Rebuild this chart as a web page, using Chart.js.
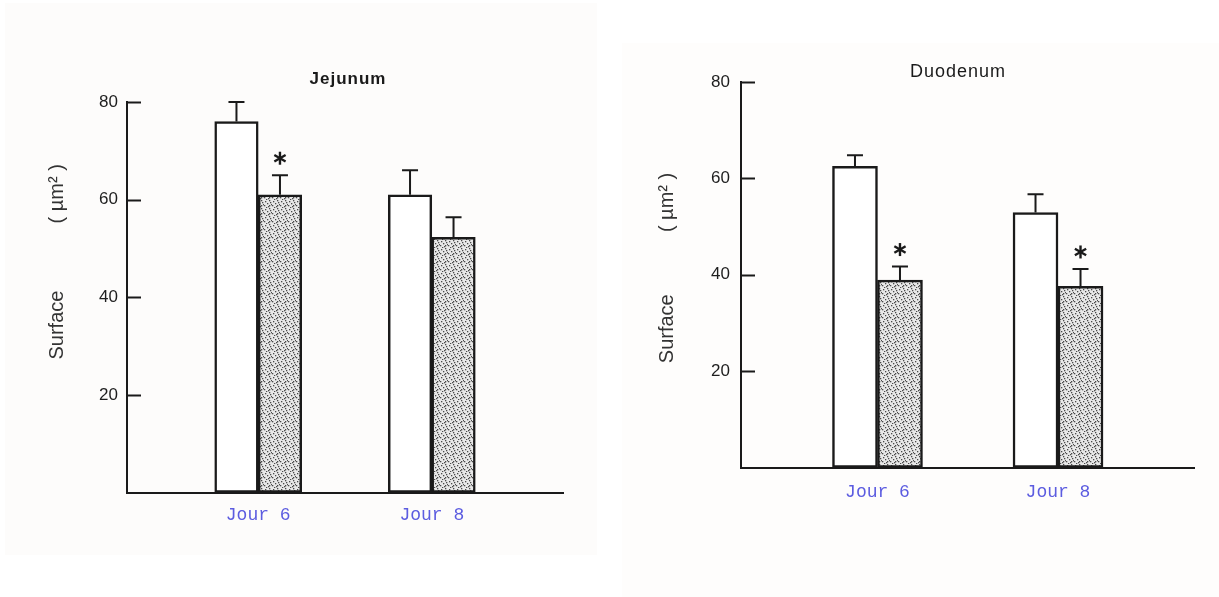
<!DOCTYPE html>
<html>
<head>
<meta charset="utf-8">
<script src="https://cdn.jsdelivr.net/npm/chart.js@4"></script>
<style>
  html, body { margin: 0; padding: 0; background: #ffffff; }
  body { width: 1219px; height: 597px; position: relative; overflow: hidden; }
  .panel { position: absolute; }
  #bgLeft { left: 5px; top: 3px; width: 592px; height: 552px; background: #fdfcfb; }
  #bgRight { left: 622px; top: 43px; width: 597px; height: 554px; background: #fefdfc; }
  #wrapLeft { left: 0; top: 0; width: 600px; height: 597px; }
  #wrapRight { left: 610px; top: 0; width: 609px; height: 597px; }
</style>
</head>
<body>
<div class="panel" id="bgLeft"></div>
<div class="panel" id="bgRight"></div>
<div class="panel" id="wrapLeft"><canvas id="chartLeft"></canvas></div>
<div class="panel" id="wrapRight"><canvas id="chartRight"></canvas></div>
<script>
const categories = ["Jour 6", "Jour 8"];
const yTicks = [20, 40, 60, 80];

// Jejunum (left)
const jejunumControl = [76, 61];
const jejunumControlSE = [4, 5];
const jejunumTreated = [61, 52.3];
const jejunumTreatedSE = [4, 4.1];
const jejunumSignif = [true, false];

// Duodenum (right)
const duodenumControl = [62.5, 52.9];
const duodenumControlSE = [2.3, 3.8];
const duodenumTreated = [38.9, 37.6];
const duodenumTreatedSE = [2.8, 3.6];
const duodenumSignif = [true, true];

const INK = "#1a1a1a";

// stippled fill, fixed dot layout
function makeStipple() {
  const c = document.createElement("canvas");
  c.width = 8;
  c.height = 8;
  const g = c.getContext("2d");
  g.fillStyle = "#e8e8e8";
  g.fillRect(0, 0, 8, 8);
  g.fillStyle = "#4a4a4a";
  const dots = [[1, 1], [5, 0], [3, 3], [7, 4], [0, 5], [4, 6], [2, 7], [6, 2], [5, 5]];
  dots.forEach(([x, y]) => g.fillRect(x, y, 1.3, 1.3));
  return g.createPattern(c, "repeat");
}

const annotate = {
  id: "annotate",
  afterDraw(chart, args, opts) {
    const ctx = chart.ctx;
    const y = chart.scales.y;
    const area = chart.chartArea;
    ctx.save();
    ctx.strokeStyle = INK;
    ctx.lineWidth = 2;

    // inner tick marks
    yTicks.forEach((v) => {
      const py = Math.round(y.getPixelForValue(v)) + 0.5;
      ctx.beginPath();
      ctx.moveTo(area.left, py);
      ctx.lineTo(area.left + 14, py);
      ctx.stroke();
    });

    // error bars + asterisks
    chart.data.datasets.forEach((ds, di) => {
      const meta = chart.getDatasetMeta(di);
      meta.data.forEach((bar, i) => {
        const top = y.getPixelForValue(ds.data[i].y + ds.se[i]);
        ctx.beginPath();
        ctx.moveTo(bar.x, bar.y);
        ctx.lineTo(bar.x, top);
        ctx.moveTo(bar.x - 8, top);
        ctx.lineTo(bar.x + 8, top);
        ctx.stroke();
        if (ds.signif && ds.signif[i]) {
          const cy = top - 17;
          ctx.save();
          ctx.lineWidth = 2.4;
          [90, 30, 150].forEach((a) => {
            const r = (a * Math.PI) / 180;
            const dx = Math.cos(r) * 6.5;
            const dy = Math.sin(r) * 6.5;
            ctx.beginPath();
            ctx.moveTo(bar.x - dx, cy - dy);
            ctx.lineTo(bar.x + dx, cy + dy);
            ctx.stroke();
          });
          ctx.restore();
        }
      });
    });

    // title
    ctx.fillStyle = INK;
    ctx.font = opts.titleFont;
    ctx.letterSpacing = "1px";
    ctx.textAlign = "center";
    ctx.textBaseline = "middle";
    ctx.fillText(opts.title, opts.titleX, opts.titleY);
    ctx.letterSpacing = "0px";

    // y axis label, two parts
    ctx.fillStyle = "#333";
    ctx.font = "20px 'Liberation Sans', Arial, sans-serif";
    const lx = area.left - opts.labelGap;
    [["Surface", opts.surfaceAt], ["( µm² )", opts.unitAt]].forEach(([t, v]) => {
      ctx.save();
      ctx.translate(lx, y.getPixelForValue(v));
      ctx.rotate(-Math.PI / 2);
      ctx.fillText(t, 0, 0);
      ctx.restore();
    });
    ctx.restore();
  },
};

function buildChart(canvasId, control, controlSE, treated, treatedSE, signif, cfg) {
  const stipple = makeStipple();
  const toPoints = (arr) => arr.map((v, i) => ({ x: i + 1, y: v }));
  return new Chart(document.getElementById(canvasId), {
    type: "bar",
    data: {
      datasets: [
        {
          label: "Témoin",
          data: toPoints(control),
          se: controlSE,
          backgroundColor: "#ffffff",
          borderColor: INK,
          borderWidth: 2.5,
          borderSkipped: false,
        },
        {
          label: "Traité",
          data: toPoints(treated),
          se: treatedSE,
          signif: signif,
          backgroundColor: stipple,
          borderColor: INK,
          borderWidth: 2.5,
          borderSkipped: false,
        },
      ],
    },
    options: {
      responsive: true,
      maintainAspectRatio: false,
      animation: false,
      barThickness: cfg.barThickness,
      layout: {
        padding: { left: 0, right: cfg.padRight, top: cfg.padTop, bottom: cfg.padBottom },
      },
      plugins: {
        legend: { display: false },
        tooltip: { enabled: false },
        annotate: cfg.annotate,
      },
      scales: {
        x: {
          type: "linear",
          min: 0.244,
          max: 2.756,
          offset: false,
          grid: { display: false, drawTicks: false },
          border: { display: true, color: INK, width: 2 },
          afterBuildTicks: (scale) => {
            scale.ticks = categories.map((c, i) => ({ value: i + 1 }));
          },
          afterFit: (scale) => {
            scale.height = 40;
          },
          ticks: {
            padding: cfg.xPad,
            color: "#5c5ce0",
            font: { family: "'Liberation Mono', 'Courier New', monospace", size: 18 },
            callback: (v) => categories[v - 1],
          },
        },
        y: {
          min: 0,
          max: 80,
          grid: { display: false, drawTicks: false },
          border: { display: true, color: INK, width: 2 },
          afterBuildTicks: (scale) => {
            scale.ticks = yTicks.map((v) => ({ value: v }));
          },
          afterFit: (scale) => {
            scale.width = cfg.axisLeft;
          },
          ticks: {
            padding: cfg.yPad,
            color: "#1e1e1e",
            font: { family: "'Liberation Sans', Arial, sans-serif", size: 17 },
          },
        },
      },
    },
    plugins: [annotate],
  });
}

buildChart("chartLeft", jejunumControl, jejunumControlSE, jejunumTreated, jejunumTreatedSE, jejunumSignif, {
  barThickness: 43.5,
  axisLeft: 127,
  padRight: 37,
  padTop: 102,
  padBottom: 64.5,
  xPad: 12,
  yPad: 9,
  annotate: {
    title: "Jejunum",
    titleFont: "bold 17px 'Liberation Sans', Arial, sans-serif",
    titleX: 348,
    titleY: 79,
    labelGap: 70,
    surfaceAt: 34.3,
    unitAt: 61.2,
  },
});

buildChart("chartRight", duodenumControl, duodenumControlSE, duodenumTreated, duodenumTreatedSE, duodenumSignif, {
  barThickness: 45,
  axisLeft: 131,
  padRight: 24.5,
  padTop: 82,
  padBottom: 89.5,
  xPad: 14,
  yPad: 11,
  annotate: {
    title: "Duodenum",
    titleFont: "18px 'Liberation Sans', Arial, sans-serif",
    titleX: 348,
    titleY: 72,
    labelGap: 74,
    surfaceAt: 28.8,
    unitAt: 55.0,
  },
});
</script>
</body>
</html>
